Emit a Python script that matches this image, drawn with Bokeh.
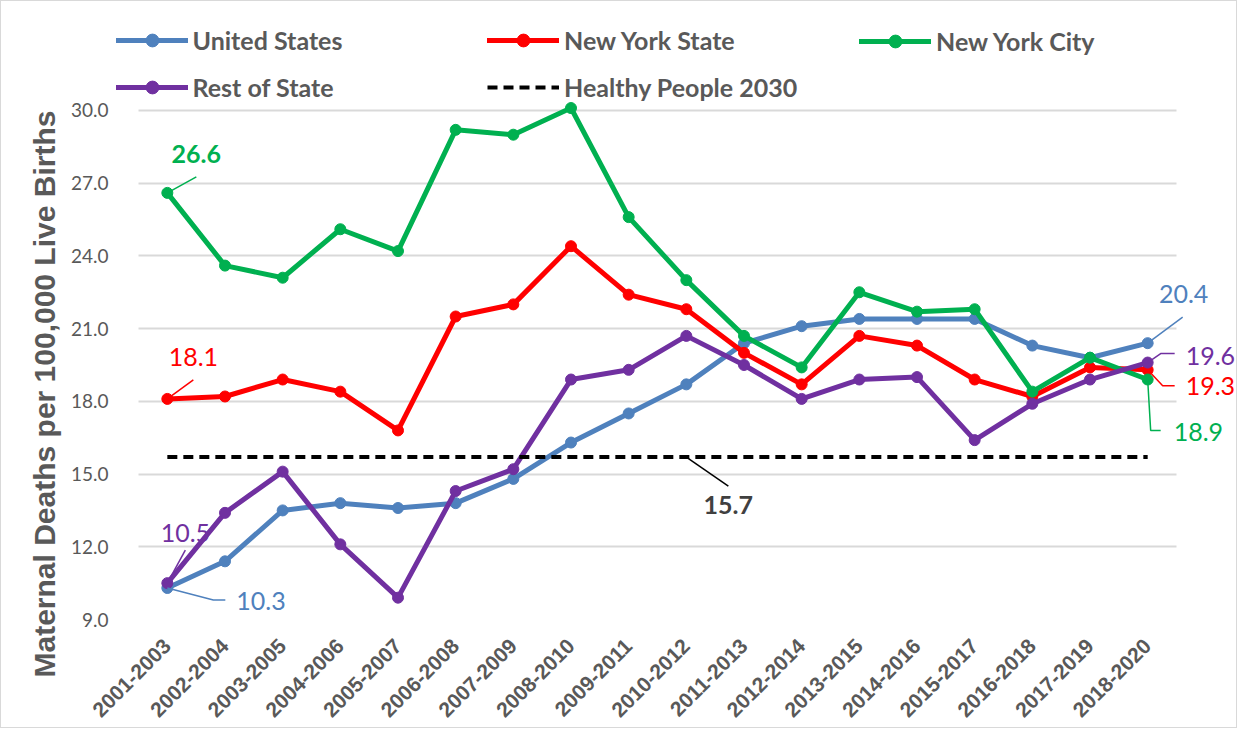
import math
from bokeh.plotting import figure
from bokeh.models import (Range1d, FixedTicker, Legend, LegendItem, Label, Title,
                          ColumnDataSource, NumeralTickFormatter)
from bokeh.embed import file_html
from bokeh.resources import INLINE

# ---------------- data ----------------
periods = ["2001-2003", "2002-2004", "2003-2005", "2004-2006", "2005-2007",
           "2006-2008", "2007-2009", "2008-2010", "2009-2011", "2010-2012",
           "2011-2013", "2012-2014", "2013-2015", "2014-2016", "2015-2017",
           "2016-2018", "2017-2019", "2018-2020"]
united_states = [10.3, 11.4, 13.5, 13.8, 13.6, 13.8, 14.8, 16.3, 17.5, 18.7,
                 20.4, 21.1, 21.4, 21.4, 21.4, 20.3, 19.8, 20.4]
new_york_state = [18.1, 18.2, 18.9, 18.4, 16.8, 21.5, 22.0, 24.4, 22.4, 21.8,
                  20.0, 18.7, 20.7, 20.3, 18.9, 18.2, 19.4, 19.3]
new_york_city = [26.6, 23.6, 23.1, 25.1, 24.2, 29.2, 29.0, 30.1, 25.6, 23.0,
                 20.7, 19.4, 22.5, 21.7, 21.8, 18.4, 19.8, 18.9]
rest_of_state = [10.5, 13.4, 15.1, 12.1, 9.9, 14.3, 15.2, 18.9, 19.3, 20.7,
                 19.5, 18.1, 18.9, 19.0, 16.4, 17.9, 18.9, 19.6]
healthy_people_2030 = 15.7
y_ticks = [9, 12, 15, 18, 21, 24, 27, 30]

C_US = "#4F81BD"
C_NYS = "#FF0000"
C_NYC = "#00B050"
C_ROS = "#7030A0"
GRAY = "#595959"

n = len(periods)
idx = list(range(n))

# ---------------- geometry (page pixels) ----------------
FIG_W, FIG_H = 1237, 728
FRAME_L, FRAME_R, FRAME_T, FRAME_B = 121, 1245, 20, 626
GRID_L, GRID_R = 145, 1183
PX_X = (GRID_R - GRID_L) / n
X0 = -0.5 - (GRID_L - FRAME_L) / PX_X
X1 = (n - 0.5) + (FRAME_R - GRID_R) / PX_X
Y0, Y1 = 9.0, 34.0
PX_Y = (FRAME_B - FRAME_T) / (Y1 - Y0)

p = figure(width=FIG_W, height=FIG_H, output_backend="svg", toolbar_location=None,
           x_range=Range1d(X0, X1), y_range=Range1d(Y0, Y1),
           min_border_left=FRAME_L - 8, min_border_right=0,
           min_border_top=FRAME_T - 8, min_border_bottom=8 + FIG_H - FRAME_B)
p.styles = {"border": "1px solid #d9d9d9"}
p.outline_line_color = None
p.background_fill_color = "white"
p.border_fill_color = "white"

# axes
p.xaxis.ticker = FixedTicker(ticks=idx)
p.xaxis.major_label_overrides = {i: s for i, s in enumerate(periods)}
p.xaxis.major_label_orientation = math.pi / 4
p.xaxis.major_label_text_font = "Liberation Sans"
p.xaxis.major_label_text_font_style = "bold"
p.xaxis.major_label_text_font_size = "21px"
p.xaxis.major_label_text_color = GRAY
p.xaxis.major_label_standoff = 17
p.xaxis.axis_line_color = None
p.xaxis.major_tick_line_color = None
p.xaxis.minor_tick_line_color = None

p.yaxis.ticker = FixedTicker(ticks=y_ticks)
p.yaxis.formatter = NumeralTickFormatter(format="0.0")
p.yaxis.major_label_text_font = "Lato"
p.yaxis.major_label_text_font_size = "19px"
p.yaxis.major_label_text_color = GRAY
p.yaxis.major_label_standoff = 0
p.yaxis.axis_line_color = None
p.yaxis.major_tick_line_color = None
p.yaxis.minor_tick_line_color = None

p.xgrid.grid_line_color = None
g = p.ygrid[0]
g.ticker = FixedTicker(ticks=y_ticks)
g.grid_line_color = "#d9d9d9"
g.grid_line_width = 2
if "cross_bounds" in g.properties():
    g.cross_bounds = (-0.5, n - 0.5)
else:
    g.visible = False
    p.segment(x0=[-0.5] * len(y_ticks), x1=[n - 0.5] * len(y_ticks),
              y0=y_ticks, y1=y_ticks, line_color="#d9d9d9", line_width=2)

# y-axis title (starts 58px below the frame bottom, reads upward)
p.add_layout(Title(text="Maternal Deaths per 100,000 Live Births", align="left",
                   offset=-58, standoff=14, text_font="Liberation Sans",
                   text_font_style="bold", text_font_size="30px",
                   text_color=GRAY), "left")

# series
rends = {}
for key, vals, color in [("us", united_states, C_US),
                         ("nys", new_york_state, C_NYS),
                         ("nyc", new_york_city, C_NYC),
                         ("ros", rest_of_state, C_ROS)]:
    src = ColumnDataSource(dict(x=idx, y=vals))
    ln = p.line("x", "y", source=src, line_color=color, line_width=5,
                line_join="round", line_cap="round")
    sc = p.scatter("x", "y", source=src, size=11, fill_color=color,
                   line_color=color)
    rends[key] = [ln, sc]

hp = p.line(x=[idx[0], idx[-1]], y=[healthy_people_2030, healthy_people_2030],
            line_color="black", line_width=4, line_dash="10 6")

# legends (three columns)
def make_legend(items, glyph_left_page, bottom_page):
    leg = Legend(items=items,
                 location=(glyph_left_page - FRAME_L, FRAME_B - bottom_page),
                 orientation="vertical",
                 label_text_font="Lato", label_text_font_style="bold",
                 label_text_font_size="25px", label_text_color=GRAY,
                 glyph_width=72, glyph_height=32, label_height=32,
                 label_standoff=5, spacing=15, padding=0, margin=0,
                 border_line_color=None, background_fill_alpha=0)
    p.add_layout(leg, "center")

make_legend([LegendItem(label="United States", renderers=rends["us"]),
             LegendItem(label="Rest of State", renderers=rends["ros"])], 122.5, 110.3)
make_legend([LegendItem(label="New York State", renderers=rends["nys"]),
             LegendItem(label="Healthy People 2030", renderers=[hp])], 494, 110.3)
make_legend([LegendItem(label="New York City", renderers=rends["nyc"])], 866, 63.7)

# data labels with leader lines
def data_label(i, v, text, color, dx, dy, leader, align="center", bold=False,
               text_color=None):
    xs = [i] + [i + a / PX_X for a, b in leader]
    ys = [v] + [v + b / PX_Y for a, b in leader]
    p.line(xs, ys, line_color=color, line_width=1.5)
    p.add_layout(Label(x=i, y=v, x_offset=dx, y_offset=dy, text=text,
                       text_align=align, text_baseline="middle",
                       text_font="Lato", text_font_size="25px",
                       text_font_style="bold" if bold else "normal",
                       text_color=text_color or color))

last = n - 1
data_label(0, new_york_city[0], f"{new_york_city[0]:.1f}", C_NYC, 29, 39,
           [(29, 16)], bold=True)
data_label(0, new_york_state[0], f"{new_york_state[0]:.1f}", C_NYS, 26, 42,
           [(26, 19)])
data_label(0, rest_of_state[0], f"{rest_of_state[0]:.1f}", C_ROS, 18, 50,
           [(18, 33)])
data_label(0, united_states[0], f"{united_states[0]:.1f}", C_US, 69, -13,
           [(46, -12), (58, -12)], align="left")
data_label(9, healthy_people_2030, f"{healthy_people_2030:.1f}", "black", 42, -48,
           [(42, -29)], bold=True, text_color="#404040")
data_label(last, united_states[last], f"{united_states[last]:.1f}", C_US, 36, 49,
           [(35, 26)])
data_label(last, rest_of_state[last], f"{rest_of_state[last]:.1f}", C_ROS, 38, 7,
           [(13, 9), (27, 9)], align="left")
data_label(last, new_york_state[last], f"{new_york_state[last]:.1f}", C_NYS, 38, -16,
           [(15, -16), (27, -16)], align="left")
data_label(last, new_york_city[last], f"{new_york_city[last]:.1f}", C_NYC, 26, -52,
           [(3, -51), (13, -51)], align="left")

open("out.html", "w").write(file_html(p, INLINE))
